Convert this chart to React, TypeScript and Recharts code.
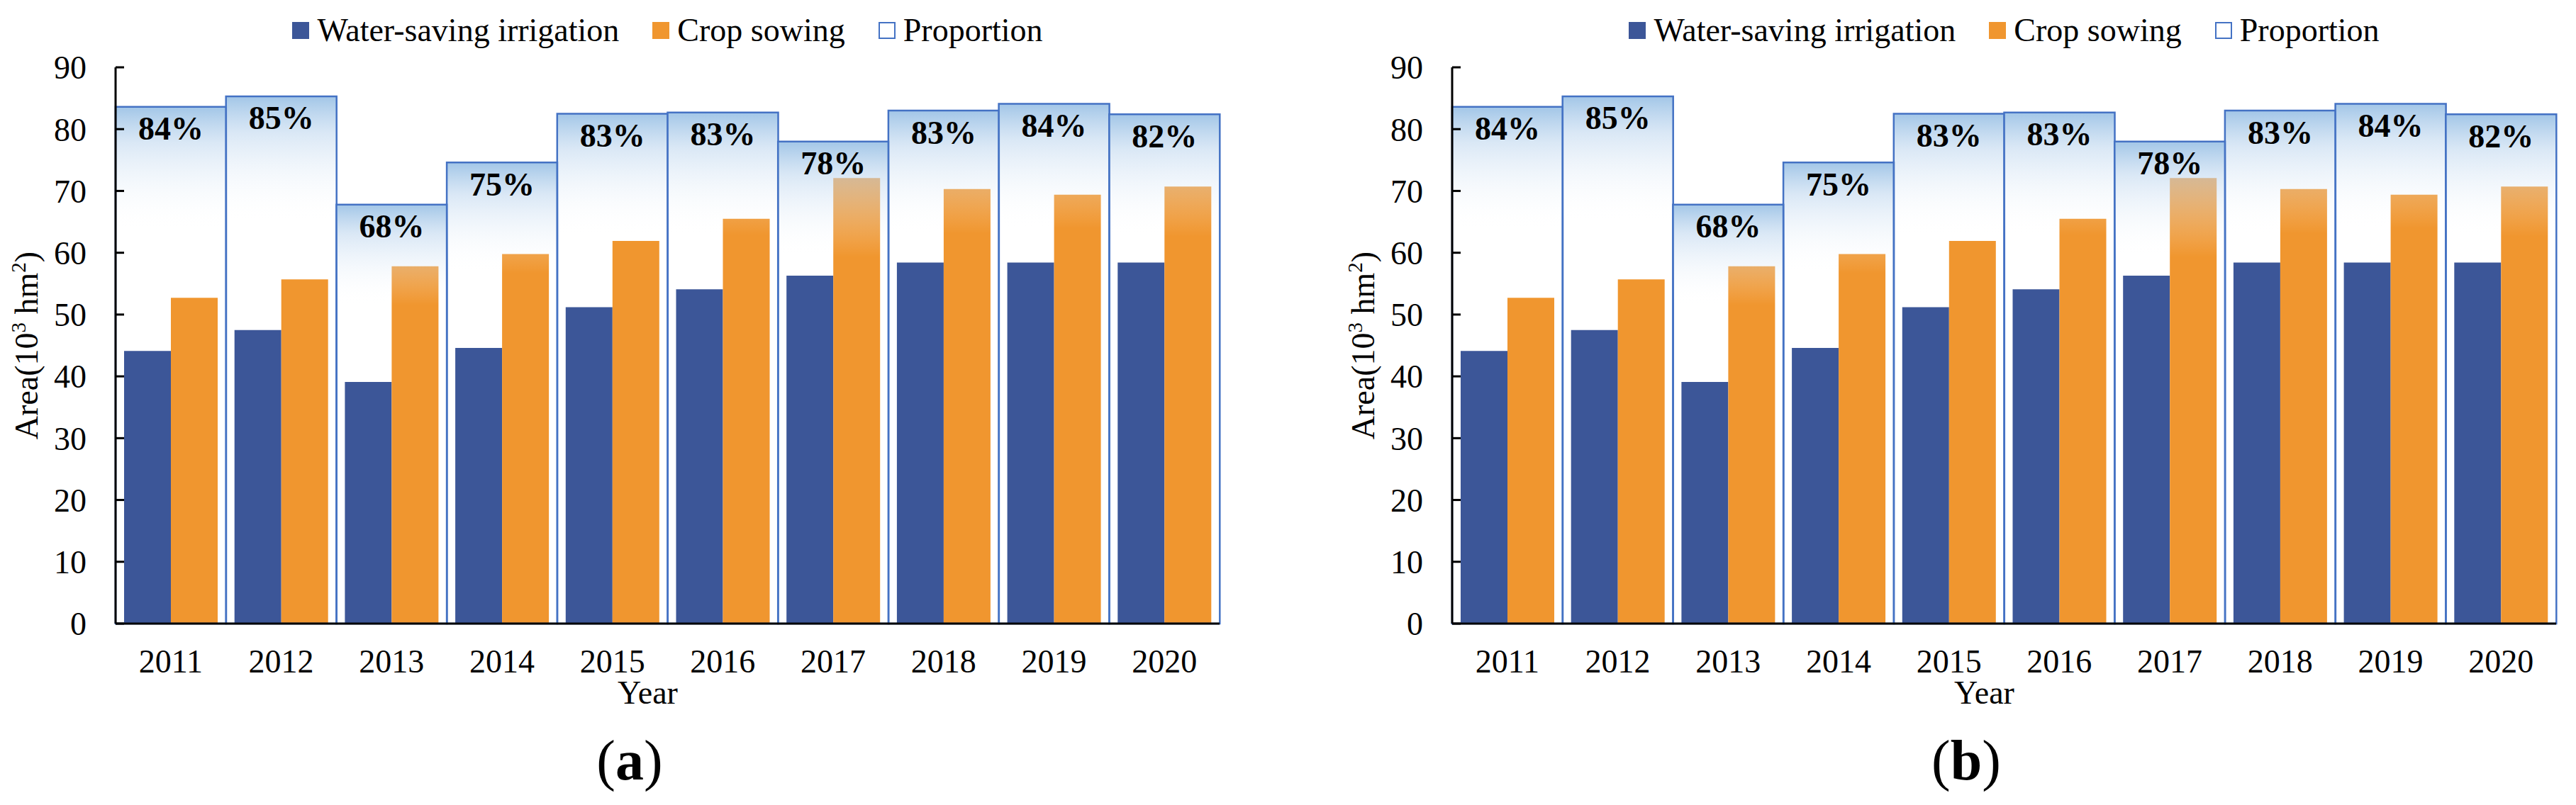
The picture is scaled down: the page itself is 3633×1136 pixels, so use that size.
import React from 'react';
import { BarChart, Bar, XAxis, YAxis, Legend, LabelList } from 'recharts';

const years = ['2011', '2012', '2013', '2014', '2015', '2016', '2017', '2018', '2019', '2020'];
const waterSaving = [44.1, 47.5, 39.1, 44.6, 51.2, 54.1, 56.3, 58.4, 58.4, 58.4];
const cropSowing = [52.7, 55.7, 57.8, 59.8, 61.9, 65.5, 72.1, 70.3, 69.4, 70.7];
// proportion (%) of water-saving irrigation in crop sowing area
const proportion = [83.6, 85.3, 67.8, 74.6, 82.5, 82.7, 78.0, 83.0, 84.1, 82.4];
const yTicks = [0, 10, 20, 30, 40, 50, 60, 70, 80, 90];
const panelTags = ['a', 'b'];
const legendOrder = ['water', 'crop', 'proportion'];

const data = years.map((year, i) => ({
  year,
  water: waterSaving[i],
  crop: cropSowing[i],
  proportion: proportion[i],
}));

const SERIF = '"Liberation Serif", "Times New Roman", serif';
const BLUE = '#3C5698';
const ORANGE = '#F0962F';
const BOX = '#4472C4';

const LegendContent = ({ payload }: any) => {
  const items = [...(payload || [])].sort(
    (a: any, b: any) => legendOrder.indexOf(a.dataKey) - legendOrder.indexOf(b.dataKey)
  );
  return (
    <div style={{
      display: 'flex',
      justifyContent: 'center',
      alignItems: 'center',
      height: 50,
      fontFamily: SERIF,
      fontSize: 46,
      color: '#000',
    }}>
      {items.map((entry: any, i: number) => {
        const isBox = entry.dataKey === 'proportion';
        return (
          <div key={entry.dataKey} style={{ display: 'flex', alignItems: 'center', marginLeft: i ? 47 : 0 }}>
            <span style={{
              display: 'inline-block',
              width: 24,
              height: 24,
              boxSizing: 'border-box',
              background: isBox ? '#fff' : entry.color,
              border: isBox ? `2px solid ${BOX}` : 'none',
              marginRight: 11,
            }} />
            <span style={{ lineHeight: 1 }}>{entry.value}</span>
          </div>
        );
      })}
    </div>
  );
};

const AreaTitle = ({ viewBox }: any) => {
  const cx = viewBox.x + 53;
  const cy = viewBox.y + viewBox.height / 2;
  return (
    <text
      x={cx}
      y={cy}
      transform={`rotate(-90 ${cx} ${cy})`}
      textAnchor="middle"
      fontFamily={SERIF}
      fontSize={46}
      fill="#000"
    >
      Area(10<tspan fontSize={29} dy={-17}>3</tspan>
      <tspan dy={17}> hm</tspan>
      <tspan fontSize={29} dy={-17}>2</tspan>
      <tspan dy={17}>)</tspan>
    </text>
  );
};

const YearTitle = ({ viewBox }: any) => (
  <text
    x={viewBox.x + viewBox.width / 2 - 28}
    y={viewBox.y + 113}
    textAnchor="middle"
    fontFamily={SERIF}
    fontSize={46}
    fill="#000"
  >
    Year
  </text>
);

const PercentLabel = (props: any) => {
  const vb = props.viewBox || props;
  return (
    <text
      x={vb.x + vb.width / 2}
      y={vb.y + 31}
      textAnchor="middle"
      dominantBaseline="central"
      style={{ fontFamily: SERIF, fontWeight: 700, fontSize: 46 }}
      fill="#000"
    >
      {Math.round(Number(props.value))}%
    </text>
  );
};

const Panel = ({ tag, left }: { tag: string; left: number }) => (
  <div style={{ position: 'absolute', left, top: 0, width: 1800, height: 1136 }}>
    <BarChart
      width={1800}
      height={1010}
      data={data}
      margin={{ top: 95, right: 80, bottom: 0, left: 0 }}
      barCategoryGap={0}
      barGap={0}
    >
      <defs>
        <linearGradient id={`prop-${tag}`} x1="0" y1="0" x2="0" y2="1">
          <stop offset="0" stopColor="#9DC3E6" stopOpacity={0.95} />
          <stop offset="0.07" stopColor="#BCD5EE" stopOpacity={0.55} />
          <stop offset="0.24" stopColor="#FFFFFF" stopOpacity={0} />
        </linearGradient>
      </defs>
      <Legend
        verticalAlign="middle"
        align="center"
        layout="horizontal"
        wrapperStyle={{ top: 18, left: 163, width: 1557, height: 50 }}
        content={LegendContent}
      />
      <Bar xAxisId="main" dataKey="water" name="Water-saving irrigation" fill={BLUE} barSize={66} isAnimationActive={false} />
      <Bar xAxisId="main" dataKey="crop" name="Crop sowing" fill={ORANGE} barSize={66} isAnimationActive={false} />
      <Bar
        xAxisId="p"
        dataKey="proportion"
        name="Proportion"
        fill={`url(#prop-${tag})`}
        stroke={BOX}
        strokeWidth={2.5}
        isAnimationActive={false}
      >
        <LabelList dataKey="proportion" content={PercentLabel} />
      </Bar>
      <XAxis
        xAxisId="main"
        dataKey="year"
        interval={0}
        height={130}
        tickLine={false}
        tickSize={0}
        tickMargin={36}
        axisLine={{ stroke: '#000', strokeWidth: 3 }}
        tick={{ fill: '#000', fontSize: 46, fontFamily: SERIF }}
        label={<YearTitle />}
      />
      <XAxis
        xAxisId="p"
        dataKey="year"
        orientation="top"
        height={0}
        tick={false}
        tickLine={false}
        axisLine={{ stroke: '#000', strokeWidth: 3 }}
      />
      <YAxis
        domain={[0, 90]}
        ticks={yTicks}
        interval={0}
        width={163}
        tickSize={-12}
        tickMargin={53}
        axisLine={{ stroke: '#000', strokeWidth: 3 }}
        tickLine={{ stroke: '#000', strokeWidth: 3 }}
        tick={{ fill: '#000', fontSize: 46, fontFamily: SERIF }}
        label={<AreaTitle />}
      />
      <YAxis
        yAxisId="r"
        orientation="right"
        domain={[0, 90]}
        width={0}
        tick={false}
        tickLine={false}
        axisLine={{ stroke: '#000', strokeWidth: 3 }}
      />
    </BarChart>
    <div style={{
      position: 'absolute',
      left: 788,
      top: 1033,
      width: 200,
      textAlign: 'center',
      fontFamily: SERIF,
      fontSize: 80,
      lineHeight: 1,
      color: '#000',
    }}>
      (<b>{tag}</b>)
    </div>
  </div>
);

export default function App() {
  return (
    <div style={{ position: 'absolute', left: 0, top: 0, width: 3633, height: 1136, background: '#fff', overflow: 'hidden' }}>
      {panelTags.map((tag, i) => (
        <Panel key={tag} tag={tag} left={i * 1885} />
      ))}
    </div>
  );
}
